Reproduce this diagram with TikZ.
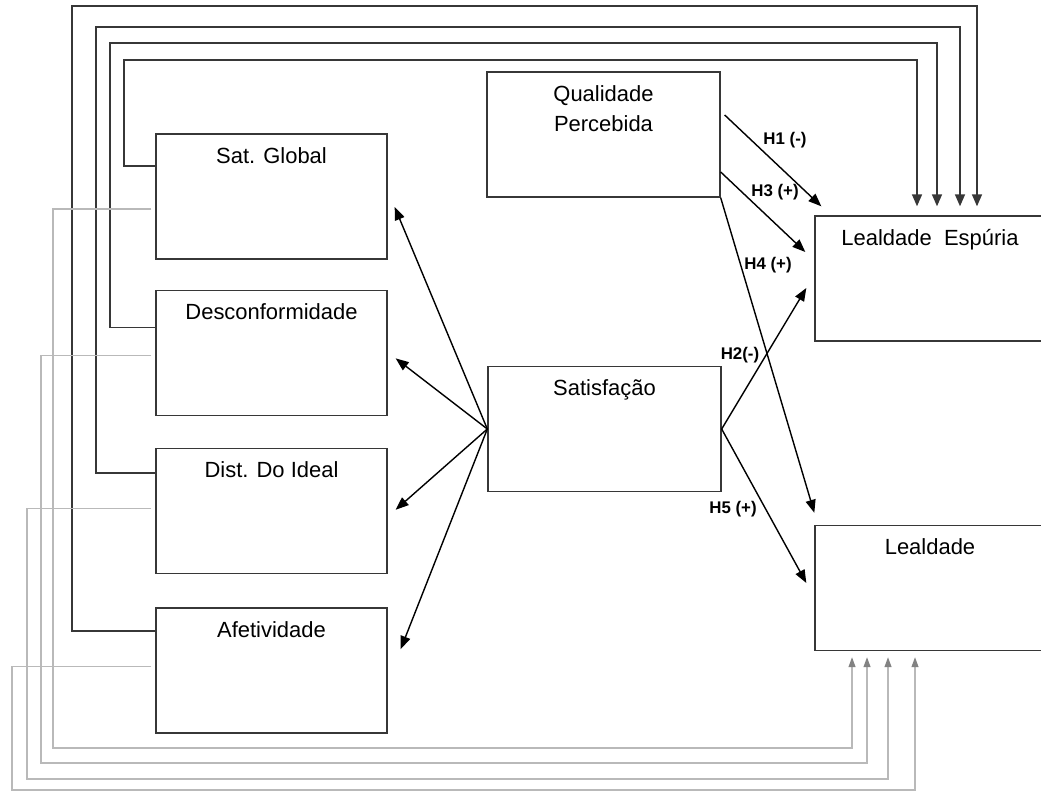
\documentclass[tikz,border=0pt]{standalone}
\usepackage{fontspec}
\setmainfont{Liberation Sans}
\usepackage{xcolor}
\usetikzlibrary{arrows.meta, positioning}
\definecolor{linedark}{RGB}{55,55,55}
\definecolor{linelight}{RGB}{185,185,185}
\definecolor{tipgray}{RGB}{130,130,130}

\begin{document}
\begin{tikzpicture}[
  x=0.02cm, y=-0.02cm,
  box/.style={draw=linedark, line width=0.8pt, minimum width=4.62cm, minimum height=2.5cm, inner sep=0pt},
  boxtext/.style={anchor=north, yshift=-0.27cm, inner sep=0pt, align=center, font=\fontsize{12.5}{17.6}\selectfont},
  hyp/.style={-{Triangle[length=0.26cm, width=0.2cm]}, line width=0.8pt},
  upper/.style={-{Triangle[length=0.24cm, width=0.2cm]}, draw=linedark, line width=0.9pt},
  lower/.style={draw=linelight, line width=0.7pt, arrows={-{Triangle[length=0.2cm, width=0.14cm, color=tipgray]}}},
  hlabel/.style={font=\fontsize{9.6}{11}\selectfont\bfseries, inner sep=1pt}
]
\useasboundingbox (0,0) rectangle (1041,791);

% Indicators (left)
\node[box, label={[boxtext]north:Sat. Global}] (satg) at (271.5,196.5) {};
\node[box, below=0.6cm of satg, label={[boxtext]north:Desconformidade}] (desc) {};
\node[box, below=0.64cm of desc, label={[boxtext]north:Dist. Do Ideal}] (dist) {};
\node[box, below=0.66cm of dist, label={[boxtext]north:Afetividade}] (afet) {};

% Constructs
\node[box, minimum width=4.66cm, label={[boxtext]north:Qualidade\\Percebida}] (qual) at (603.5,134.5) {};
\node[box, minimum width=4.66cm, label={[boxtext]north:Satisfação}] (satis) at (604.5,429) {};
\node[box, minimum width=4.8cm, label={[boxtext, xshift=-0.1cm]north:Lealdade\ \ Espúria}] (lesp) at (935,278.5) {};
\node[box, minimum width=4.8cm, label={[boxtext, xshift=-0.1cm]north:Lealdade}] (leal) at (935,588) {};

% Satisfacao -> indicators
\draw[hyp] (satis.west) -- ([xshift=0.14cm, yshift=-0.21cm]satg.east);
\draw[hyp] (satis.west) -- ([xshift=0.16cm, yshift=-0.11cm]desc.east);
\draw[hyp] (satis.west) -- ([xshift=0.16cm, yshift=0.03cm]dist.east);
\draw[hyp] (satis.west) -- ([xshift=0.26cm, yshift=0.43cm]afet.east);

% Hypotheses
\draw[hyp] ([xshift=0.08cm, yshift=0.39cm]qual.east) -- ([xshift=0.14cm, yshift=0.18cm]lesp.north west);
\draw[hyp] ([yshift=-0.75cm]qual.east) -- ([xshift=-0.18cm, yshift=0.53cm]lesp.west);
\draw[hyp] (qual.south east) -- ([yshift=0.24cm]leal.north west);
\draw[hyp] (satis.east) -- ([xshift=-0.16cm, yshift=-0.19cm]lesp.west);
\draw[hyp] (satis.east) -- ([xshift=-0.16cm, yshift=0.1cm]leal.west);

\node[hlabel] (h1) at (785,140) {H1 (-)};
\node[hlabel] (h3) at (775,192) {H3 (+)};
\node[hlabel] (h4) at (768,265) {H4 (+)};
\node[hlabel] (h2) at (740,355) {H2(-)};
\node[hlabel] (h5) at (733,509) {H5 (+)};

% Indicators -> Lealdade Espuria (top)
\draw[upper, shorten >=0.18cm] ([yshift=0.61cm]satg.west) -| (124,60) -| ([xshift=-0.36cm]lesp.north);
\draw[upper, shorten >=0.18cm] ([yshift=0.51cm]desc.west) -| (110,43) -| ([xshift=0.04cm]lesp.north);
\draw[upper, shorten >=0.18cm] ([yshift=0.77cm]dist.west) -| (96,27) -| ([xshift=0.5cm]lesp.north);
\draw[upper, shorten >=0.18cm] ([yshift=0.79cm]afet.west) -| (72,6) -| ([xshift=0.84cm]lesp.north);

% Indicators -> Lealdade (bottom)
\draw[lower, shorten >=0.12cm] ([xshift=-0.08cm, yshift=-0.25cm]satg.west) -| (53,748) -| ([xshift=-1.66cm]leal.south);
\draw[lower, shorten >=0.12cm] ([xshift=-0.08cm, yshift=-0.05cm]desc.west) -| (41,763) -| ([xshift=-1.36cm]leal.south);
\draw[lower, shorten >=0.12cm] ([xshift=-0.08cm, yshift=0.05cm]dist.west) -| (27,779) -| ([xshift=-0.94cm]leal.south);
\draw[lower, shorten >=0.12cm] ([xshift=-0.08cm, yshift=0.09cm]afet.west) -| (12,790) -| ([xshift=-0.4cm]leal.south);
\end{tikzpicture}
\end{document}
